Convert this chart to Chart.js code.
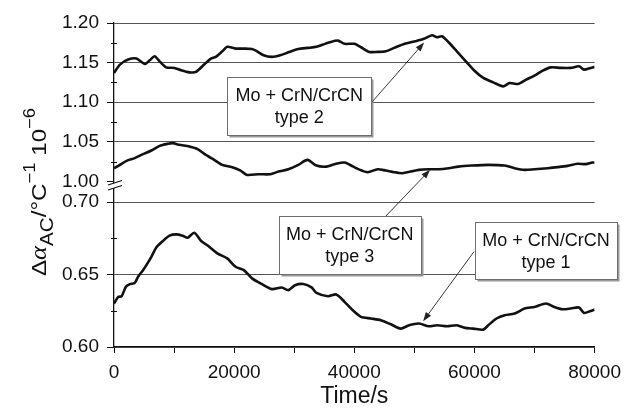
<!DOCTYPE html>
<html>
<head>
<meta charset="utf-8">
<script src="https://cdn.jsdelivr.net/npm/chart.js@4.4.1/dist/chart.umd.min.js"></script>
<style>
html, body { margin: 0; padding: 0; background: #fff; }
</style>
</head>
<body>
<canvas id="chart" width="629" height="410"></canvas>
<script>
// values (time in s, delta alpha in 1e-6 /degC)
var type2Time = [0, 990, 2360, 3740, 5110, 5940, 6760, 7590, 8690, 10060, 11170, 12540, 13640, 15010,
    16120, 16940, 18030, 18850, 20240, 21610, 22980, 23800, 24910, 26280, 27660, 29030, 30680, 32330,
    33700, 34800, 35910, 37280, 38380, 40030, 41120, 42510, 43880, 45250, 46630, 48550, 50190, 51580,
    52950, 53770, 54600, 55700, 57070, 58720, 60090, 61480, 63120, 64780, 65860, 67250, 68620, 69990,
    71370, 72740, 74390, 76040, 77410, 78240, 79340, 80000];
var type2Value = [1.137, 1.1475, 1.1538, 1.1551, 1.1483, 1.1529, 1.158, 1.1516, 1.144, 1.1433, 1.1403,
    1.1377, 1.1382, 1.1475, 1.155, 1.1572, 1.1643, 1.1699, 1.1677, 1.1677, 1.1673, 1.1643, 1.1592,
    1.1572, 1.1592, 1.163, 1.1673, 1.1686, 1.1699, 1.1728, 1.1757, 1.1778, 1.1737, 1.1737, 1.1694,
    1.1635, 1.1635, 1.1643, 1.1686, 1.174, 1.177, 1.18, 1.1846, 1.182, 1.1833, 1.1757, 1.1643, 1.1504,
    1.139, 1.1306, 1.1251, 1.12, 1.1243, 1.123, 1.1285, 1.1335, 1.1399, 1.144, 1.1433, 1.1433, 1.1453,
    1.1411, 1.1433, 1.1446];

var type3Time = [0, 710, 2090, 3460, 4830, 6220, 7590, 8960, 9780, 10890, 12540, 13910, 15290, 16660,
    18030, 19680, 21060, 22150, 24080, 26010, 27380, 29030, 30680, 32210, 33700, 35350, 36730, 38380,
    39750, 40580, 42230, 43880, 45250, 46630, 48000, 49370, 50760, 52400, 54050, 55700, 57350, 59550,
    62300, 65040, 66690, 68340, 69990, 72200, 73850, 75500, 77150, 78520, 79620, 80000];
var type3Value = [1.0167, 1.0196, 1.026, 1.0294, 1.0344, 1.039, 1.0449, 1.0475, 1.0483, 1.0462, 1.044,
    1.0408, 1.0335, 1.0272, 1.0209, 1.018, 1.0137, 1.0082, 1.0091, 1.0091, 1.0124, 1.0154, 1.0209,
    1.0272, 1.02, 1.0187, 1.0218, 1.0238, 1.019, 1.0158, 1.0116, 1.0154, 1.0137, 1.0116, 1.0104,
    1.0124, 1.0146, 1.0154, 1.0154, 1.0167, 1.0187, 1.02, 1.0209, 1.02, 1.0167, 1.0146, 1.0154,
    1.0167, 1.018, 1.0196, 1.0222, 1.0218, 1.0238, 1.0238];

var type1Time = [0, 710, 1270, 1980, 2640, 3460, 4010, 4830, 5390, 6220, 7040, 8130, 9240, 10340,
    11430, 12260, 13360, 14470, 15840, 17200, 18850, 20240, 21610, 22980, 24630, 26280, 27930, 29030,
    30140, 31510, 32880, 33700, 35630, 37000, 38380, 39750, 41120, 42770, 44420, 46070, 47720, 49110,
    50760, 52400, 53770, 55420, 57070, 58440, 59830, 61480, 62300, 63670, 65040, 66690, 68340, 69990,
    71920, 73300, 74680, 76040, 77410, 78240, 79340, 80000];
var type1Value = [0.630, 0.6346, 0.6351, 0.6416, 0.6434, 0.6443, 0.6485, 0.6531, 0.6566, 0.6623, 0.6688,
    0.6732, 0.6769, 0.6778, 0.6769, 0.6755, 0.6789, 0.6734, 0.6693, 0.6647, 0.6612, 0.6554, 0.6531,
    0.6474, 0.6434, 0.640, 0.6411, 0.6393, 0.6427, 0.6435, 0.6412, 0.6374, 0.6351, 0.6363, 0.6312,
    0.6254, 0.6208, 0.6197, 0.6185, 0.6157, 0.6127, 0.615, 0.6162, 0.6143, 0.615, 0.6143, 0.615,
    0.6132, 0.6127, 0.612, 0.615, 0.6197, 0.622, 0.6231, 0.6266, 0.6277, 0.6301, 0.6277, 0.6261,
    0.6266, 0.6273, 0.6235, 0.6249, 0.6259];

var xTicks = [0, 10000, 20000, 30000, 40000, 50000, 60000, 70000, 80000];
var upperTicks = [1.00, 1.05, 1.10, 1.15, 1.20];
var upperMinor = [1.025, 1.075, 1.125, 1.175];
var lowerTicks = [0.60, 0.65, 0.70];
var lowerMinor = [0.625, 0.675];

var labelText = [["Mo + CrN/CrCN", "type 2"], ["Mo + CrN/CrCN", "type 3"], ["Mo + CrN/CrCN", "type 1"]];

// where each label box sits and where its arrow points, in data units
var callouts = [
    { text: labelText[0], x: 30850, axis: "yTop", y: 1.0956, w: 144, h: 58, fx: 73, fy: -4, tipX: 51630, tipAxis: "yTop", tipY: 1.1753 },
    { text: labelText[1], x: 39260, axis: "yBot", y: 0.6704, w: 142, h: 58, fx: 36, fy: -29, tipX: 52620, tipAxis: "yTop", tipY: 1.0146 },
    { text: labelText[2], x: 71920, axis: "yBot", y: 0.6666, w: 142, h: 57, fx: -72, fy: 1, tipX: 51460, tipAxis: "yBot", tipY: 0.6178 }
];

var FONT = "'Liberation Sans', Arial, sans-serif";

function pairs(xs, ys) {
    return xs.map(function(x, i) { return { x: x, y: ys[i] }; });
}

var yTitle = {
    id: "yTitle",
    afterDraw: function(chart) {
        var ctx = chart.ctx;
        var parts = [
            { t: "\u0394", f: "21px " + FONT, dy: 0 },
            { t: "\u03b1", f: "italic 23px 'Liberation Serif', serif", dy: 0 },
            { t: "AC", f: "18px " + FONT, dy: 7 },
            { t: "/\u00b0C", f: "21px " + FONT, dy: 0 },
            { t: "\u22121", f: "16px " + FONT, dy: -11 },
            { t: " 10", f: "21px " + FONT, dy: 0 },
            { t: "\u22126", f: "16px " + FONT, dy: -11 }
        ];
        var total = 0;
        parts.forEach(function(p) { ctx.font = p.f; p.w = ctx.measureText(p.t).width; total += p.w; });
        ctx.save();
        ctx.translate(46, 192);
        ctx.rotate(-Math.PI / 2);
        ctx.scale(1.15, 1);
        ctx.fillStyle = "#111";
        ctx.textBaseline = "alphabetic";
        var u = -total / 2;
        parts.forEach(function(p) {
            ctx.font = p.f;
            ctx.fillText(p.t, u, p.dy);
            u += p.w;
        });
        ctx.restore();
    }
};

// short minor tick marks plus the // break on the left axis
var axisExtras = {
    id: "axisExtras",
    afterDraw: function(chart) {
        var ctx = chart.ctx;
        var x0 = chart.chartArea.left;
        var top = chart.scales.yTop, bot = chart.scales.yBot;
        ctx.save();
        ctx.strokeStyle = "#111";
        ctx.lineWidth = 1;
        ctx.beginPath();
        upperMinor.forEach(function(v) { var y = Math.round(top.getPixelForValue(v)) + 0.5; ctx.moveTo(x0 - 3, y); ctx.lineTo(x0 + 3, y); });
        lowerMinor.forEach(function(v) { var y = Math.round(bot.getPixelForValue(v)) + 0.5; ctx.moveTo(x0 - 3, y); ctx.lineTo(x0 + 3, y); });
        ctx.stroke();

        var yA = top.getPixelForValue(1.00);
        var yB = bot.top;
        var c = yA + (yB - yA) * 0.1;
        ctx.fillStyle = "#fff";
        ctx.beginPath();
        ctx.moveTo(x0 - 6, c + 1.5);
        ctx.lineTo(x0 + 8, c - 3);
        ctx.lineTo(x0 + 8, c + 2);
        ctx.lineTo(x0 - 6, c + 6.5);
        ctx.closePath();
        ctx.fill();
        ctx.lineWidth = 1.3;
        ctx.beginPath();
        ctx.moveTo(x0 - 6, c + 1.5); ctx.lineTo(x0 + 8, c - 3);
        ctx.moveTo(x0 - 6, c + 6.5); ctx.lineTo(x0 + 8, c + 2);
        ctx.stroke();
        ctx.restore();
    }
};

var calloutPlugin = {
    id: "callouts",
    afterDraw: function(chart) {
        var ctx = chart.ctx;
        var sx = chart.scales.x;
        callouts.forEach(function(c) {
            var cx = sx.getPixelForValue(c.x);
            var cy = chart.scales[c.axis].getPixelForValue(c.y);
            var left = Math.round(cx - c.w / 2) + 0.5;
            var top = Math.round(cy - c.h / 2) + 0.5;
            ctx.save();
            ctx.fillStyle = "#9a9a9a";
            ctx.fillRect(left + 2, top + 2, c.w, c.h);
            ctx.fillStyle = "#fff";
            ctx.fillRect(left, top, c.w, c.h);
            ctx.strokeStyle = "#6e6e6e";
            ctx.lineWidth = 1;
            ctx.strokeRect(left, top, c.w, c.h);
            ctx.fillStyle = "#111";
            ctx.font = "18px " + FONT;
            ctx.textAlign = "center";
            ctx.textBaseline = "middle";
            ctx.fillText(c.text[0], cx, cy - 10);
            ctx.fillText(c.text[1], cx, cy + 12);

            // arrow
            var ax = cx + c.fx, ay = cy + c.fy;
            var tx = sx.getPixelForValue(c.tipX);
            var ty = chart.scales[c.tipAxis].getPixelForValue(c.tipY);
            var ang = Math.atan2(ty - ay, tx - ax);
            ctx.strokeStyle = "#222";
            ctx.lineWidth = 0.9;
            ctx.beginPath();
            ctx.moveTo(ax, ay);
            ctx.lineTo(tx - 6 * Math.cos(ang), ty - 6 * Math.sin(ang));
            ctx.stroke();
            ctx.fillStyle = "#222";
            ctx.beginPath();
            ctx.moveTo(tx, ty);
            ctx.lineTo(tx - 9 * Math.cos(ang) + 3.2 * Math.sin(ang), ty - 9 * Math.sin(ang) - 3.2 * Math.cos(ang));
            ctx.lineTo(tx - 9 * Math.cos(ang) - 3.2 * Math.sin(ang), ty - 9 * Math.sin(ang) + 3.2 * Math.cos(ang));
            ctx.closePath();
            ctx.fill();
            ctx.restore();
        });
    }
};

function lineSet(label, data, axis) {
    return {
        label: label,
        data: data,
        yAxisID: axis,
        borderColor: "#111",
        borderWidth: 2.6,
        pointRadius: 0,
        tension: 0.25,
        fill: false
    };
}

function yAxis(min, max, ticks, weight, gridColors) {
    return {
        type: "linear",
        position: "left",
        stack: "y",
        stackWeight: weight,
        min: min,
        max: max,
        afterBuildTicks: function(scale) {
            scale.ticks = ticks.map(function(v) { return { value: v }; });
        },
        afterFit: function(scale) { scale.width = 114; },
        border: { color: "#111", width: 1.3 },
        grid: {
            color: gridColors,
            tickColor: "#111",
            tickLength: 7,
            lineWidth: 1
        },
        ticks: {
            autoSkip: false,
            padding: 8,
            color: "#111",
            font: { family: FONT, size: 19 },
            callback: function(v) { return v.toFixed(2); }
        }
    };
}

window.onload = function() {
    var ctx = document.getElementById("chart").getContext("2d");
    var chart = new Chart(ctx, {
        type: "line",
        data: {
            datasets: [
                lineSet("type 2", pairs(type2Time, type2Value), "yTop"),
                lineSet("type 3", pairs(type3Time, type3Value), "yTop"),
                lineSet("type 1", pairs(type1Time, type1Value), "yBot")
            ]
        },
        options: {
            responsive: false,
            animation: false,
            devicePixelRatio: 1,
            layout: { padding: { left: 0, top: 23, right: 30, bottom: 0 } },
            plugins: { legend: { display: false }, tooltip: { enabled: false } },
            scales: {
                x: {
                    type: "linear",
                    min: 0,
                    max: 80000,
                    afterBuildTicks: function(scale) {
                        scale.ticks = xTicks.map(function(v) { return { value: v }; });
                    },
                    afterFit: function(scale) { scale.height = 63; },
                    border: { color: "#111", width: 1.3 },
                    grid: { drawOnChartArea: false, tickColor: "#111", tickLength: 6 },
                    ticks: {
                        autoSkip: false,
                        maxRotation: 0,
                        padding: 8,
                        color: "#111",
                        font: { family: FONT, size: 19 },
                        callback: function(v) { return v % 20000 === 0 ? String(v) : ""; }
                    },
                    title: {
                        display: true,
                        text: "Time/s",
                        color: "#111",
                        font: { family: FONT, size: 23 },
                        padding: { top: 5, bottom: 0 }
                    }
                },
                // first axis in the stack is laid out at the bottom
                yBot: yAxis(0.60, 0.70, lowerTicks, 144.4, ["#555", "#555", "#555"]),
                yTop: yAxis(0.9737, 1.20, upperTicks, 178.8, ["rgba(0,0,0,0)", "#555", "#555", "#555", "#555"])
            }
        },
        plugins: [yTitle, axisExtras, calloutPlugin]
    });
    console.log(chart.chartArea);
};
</script>
</body>
</html>
